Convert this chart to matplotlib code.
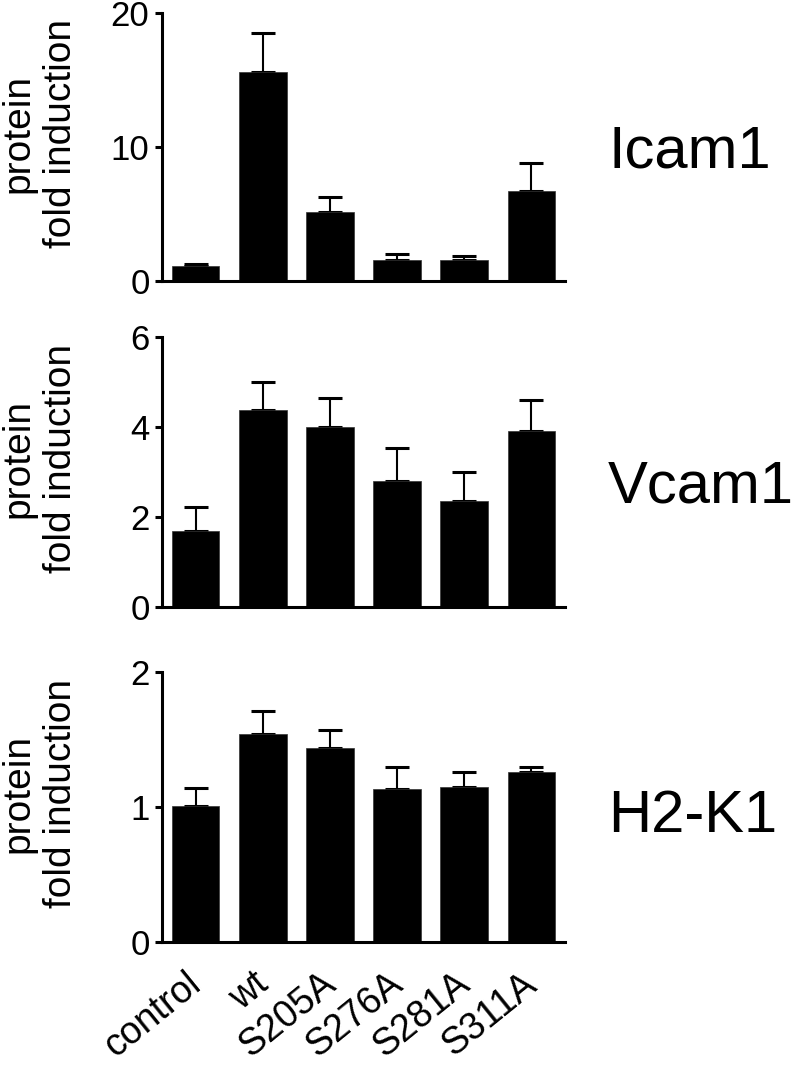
import matplotlib.pyplot as plt
import matplotlib.transforms as mtransforms
import numpy as np

plt.rcParams['font.family'] = ['Liberation Sans', 'DejaVu Sans']

groups = ['control', 'wt', 'S205A', 'S276A', 'S281A', 'S311A']

icam1 = [1.1, 15.6, 5.15, 1.6, 1.6, 6.7]
icam1_err = [0.2, 2.9, 1.15, 0.4, 0.3, 2.1]

vcam1 = [1.69, 4.38, 4.0, 2.8, 2.36, 3.91]
vcam1_err = [0.53, 0.62, 0.64, 0.73, 0.64, 0.69]

h2k1 = [1.01, 1.54, 1.44, 1.13, 1.15, 1.26]
h2k1_err = [0.13, 0.17, 0.13, 0.17, 0.11, 0.04]

panels = [
    ('Icam1', icam1, icam1_err, 20, [0, 10, 20]),
    ('Vcam1', vcam1, vcam1_err, 6, [0, 2, 4, 6]),
    ('H2-K1', h2k1, h2k1_err, 2, [0, 1, 2]),
]

fig = plt.figure(figsize=(8, 10.65), dpi=100)
W, H = 800, 1065
# (top px, bottom px, gene label centre px) of each axis
rows = [(13, 281, 152), (337, 607, 487), (672, 942, 816)]
x0, x1 = 162, 565

x = np.arange(len(groups))
for i, (name, vals, err, ymax, ticks) in enumerate(panels):
    top, bot, ly = rows[i]
    ax = fig.add_axes([x0 / W, 1 - bot / H, (x1 - x0) / W, (bot - top) / H])
    ax.bar(x, vals, width=0.71, color='black', edgecolor='#333333', linewidth=0.5,
           zorder=2)
    ax.errorbar(x, vals, yerr=[np.zeros(len(vals)), err], fmt='none',
                ecolor='black', elinewidth=1.5, capsize=8.5, capthick=2.2, zorder=1)
    ax.set_xlim(-0.5, 5.5)
    ax.set_ylim(0, ymax)
    ax.set_yticks(ticks)
    ax.set_yticklabels([str(t) for t in ticks])
    for s in ['top', 'right']:
        ax.spines[s].set_visible(False)
    for s in ['left', 'bottom']:
        ax.spines[s].set_linewidth(2.2)
    ax.tick_params(axis='y', direction='out', length=5, width=2.2, labelsize=25, pad=4)
    ax.tick_params(axis='x', length=0)
    ax.set_xticks(x)
    if i < 2:
        ax.set_xticklabels([])
    else:
        ax.set_xticklabels(groups, rotation=39, ha='right', rotation_mode='anchor',
                           fontsize=27)
        ax.tick_params(axis='x', pad=17)
        shift = mtransforms.ScaledTranslation(-0.1, 0, fig.dpi_scale_trans)
        for lab in ax.get_xticklabels():
            lab.set_transform(lab.get_transform() + shift)
    ax.set_ylabel('protein\nfold induction', fontsize=28, linespacing=1.25)
    ax.yaxis.set_label_coords(-0.205, 0.55)
    fig.text(608 / W, 1 - ly / H, name, fontsize=43, ha='left', va='center')

fig.savefig('out.png', dpi=100)
